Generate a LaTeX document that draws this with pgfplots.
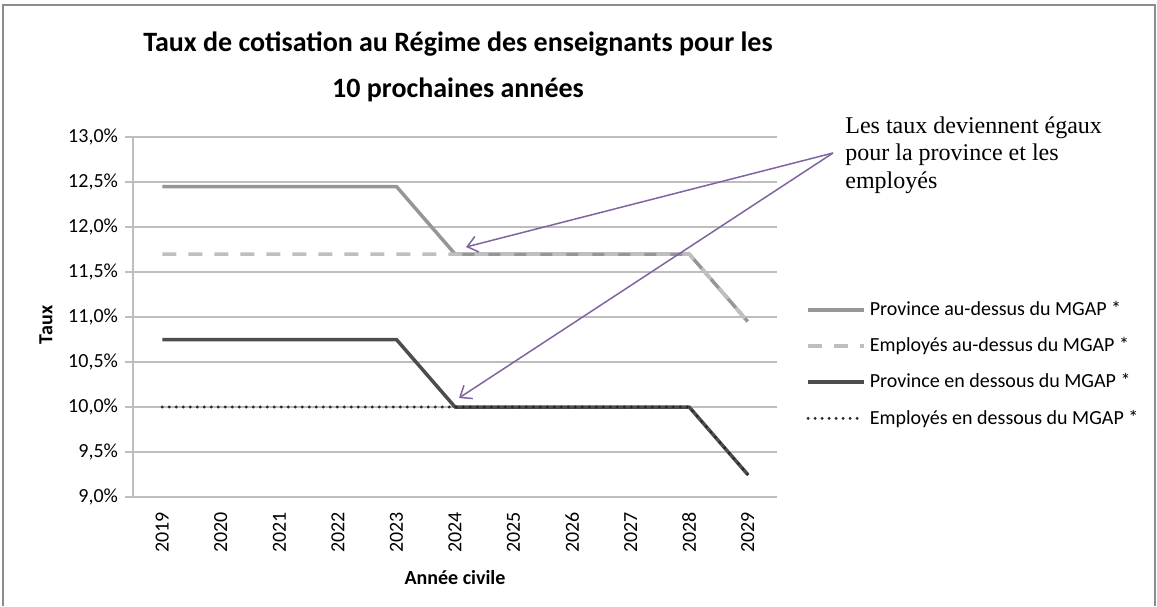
\documentclass[border=0pt]{standalone}
\usepackage{fontspec}
\setmainfont{Carlito}
\newfontfamily\timesfont{Liberation Serif}
\usepackage{pgfplots}
\pgfplotsset{compat=1.18}
\usetikzlibrary{arrows.meta}

\definecolor{provhaut}{RGB}{150,150,150}
\definecolor{emphaut}{RGB}{191,191,191}
\definecolor{provbas}{RGB}{77,77,77}
\definecolor{empbas}{RGB}{40,40,40}
\definecolor{fleche}{RGB}{128,100,162}
\definecolor{grille}{RGB}{190,190,190}
\definecolor{cadre}{RGB}{140,140,140}

\begin{document}
\begin{tikzpicture}[px/.style={x=0.5pt,y=-0.5pt,shift={(-66.5pt,248.5pt)}}]
% cadre de la page (coordonnees en pixels)
\begin{scope}[px]
\useasboundingbox (0,0) rectangle (1157,606);
\draw[cadre, line width=1pt] (3,606) -- (3,5) -- (1155,5) -- (1155,606);
\end{scope}

\begin{axis}[
    at={(0,0)}, anchor=south west,
    scale only axis, width=322pt, height=180pt,
    xmin=2018.5, xmax=2029.5,
    ymin=9, ymax=13,
    axis lines=left,
    axis line style={-, draw=grille, line width=0.75pt},
    xtick={2019,2020,2021,2022,2023,2024,2025,2026,2027,2028,2029},
    xticklabels={2019,2020,2021,2022,2023,2024,2025,2026,2027,2028,2029},
    x tick label style={rotate=90, anchor=east, font=\fontsize{10}{12}\selectfont},
    xtick style={draw=none},
    ytick={9,9.5,10,10.5,11,11.5,12,12.5,13},
    yticklabels={{9,0\%},{9,5\%},{10,0\%},{10,5\%},{11,0\%},{11,5\%},{12,0\%},{12,5\%},{13,0\%}},
    y tick label style={font=\fontsize{10}{12}\selectfont},
    ytick style={draw=grille, line width=0.75pt},
    tick align=outside, major tick length=4pt,
    ymajorgrids, grid style={draw=grille, line width=0.75pt},
    xlabel={Année civile}, ylabel={Taux},
    every axis x label/.style={at={(axis description cs:0.5,-0.225)}, anchor=center,
        font=\fontsize{10}{12}\selectfont\bfseries},
    every axis y label/.style={at={(axis description cs:-0.135,0.478)}, rotate=90, anchor=center,
        font=\fontsize{10}{12}\selectfont\bfseries},
    legend style={at={(axis description cs:1.045,0.556)}, anchor=north west,
        draw=none, fill=none, inner sep=0pt, row sep=5.5pt,
        font=\fontsize{10}{12}\selectfont},
    legend cell align=left,
    legend image code/.code={\draw[#1] (0pt,0pt) -- (28pt,0pt);},
    clip=false,
]
\addplot[provhaut, line width=1.75pt, line join=round] coordinates {
    (2019,12.45) (2020,12.45) (2021,12.45) (2022,12.45) (2023,12.45)
    (2024,11.7) (2025,11.7) (2026,11.7) (2027,11.7) (2028,11.7) (2029,10.95)};
\addlegendentry{Province au-dessus du MGAP *}
\addplot[emphaut, line width=1.75pt, dash pattern=on 7pt off 6pt] coordinates {
    (2019,11.7) (2020,11.7) (2021,11.7) (2022,11.7) (2023,11.7)
    (2024,11.7) (2025,11.7) (2026,11.7) (2027,11.7) (2028,11.7) (2029,10.95)};
\addlegendentry{Employés au-dessus du MGAP *}
\addplot[provbas, line width=1.75pt, line join=round] coordinates {
    (2019,10.75) (2020,10.75) (2021,10.75) (2022,10.75) (2023,10.75)
    (2024,10.0) (2025,10.0) (2026,10.0) (2027,10.0) (2028,10.0) (2029,9.25)};
\addlegendentry{Province en dessous du MGAP *}
\addplot[empbas, line width=1.6pt, line cap=round, dash pattern=on 0pt off 3.5pt] coordinates {
    (2019,10.0) (2020,10.0) (2021,10.0) (2022,10.0) (2023,10.0)
    (2024,10.0) (2025,10.0) (2026,10.0) (2027,10.0) (2028,10.0) (2029,9.25)};
\addlegendentry{Employés en dessous du MGAP *}
\end{axis}

% titre, annotation et fleches (coordonnees en pixels)
\begin{scope}[px]
\node[font=\fontsize{14}{17}\selectfont\bfseries, anchor=base] at (458,52)
    {Taux de cotisation au Régime des enseignants pour les};
\node[font=\fontsize{14}{17}\selectfont\bfseries, anchor=base] at (458,97)
    {10 prochaines années};
\node[font=\timesfont\fontsize{12}{14}\selectfont, anchor=base west, inner sep=0pt] at (845,133) {Les taux deviennent égaux};
\node[font=\timesfont\fontsize{12}{14}\selectfont, anchor=base west, inner sep=0pt] at (845,161) {pour la province et les};
\node[font=\timesfont\fontsize{12}{14}\selectfont, anchor=base west, inner sep=0pt] at (845,189) {employés};
\draw[fleche, line width=0.75pt, -{Straight Barb[length=5pt,width=8pt]}] (833,153) -- (466,247);
\draw[fleche, line width=0.75pt, -{Straight Barb[length=5pt,width=8pt]}] (833,153) -- (459,398);
\end{scope}
\end{tikzpicture}
\end{document}
